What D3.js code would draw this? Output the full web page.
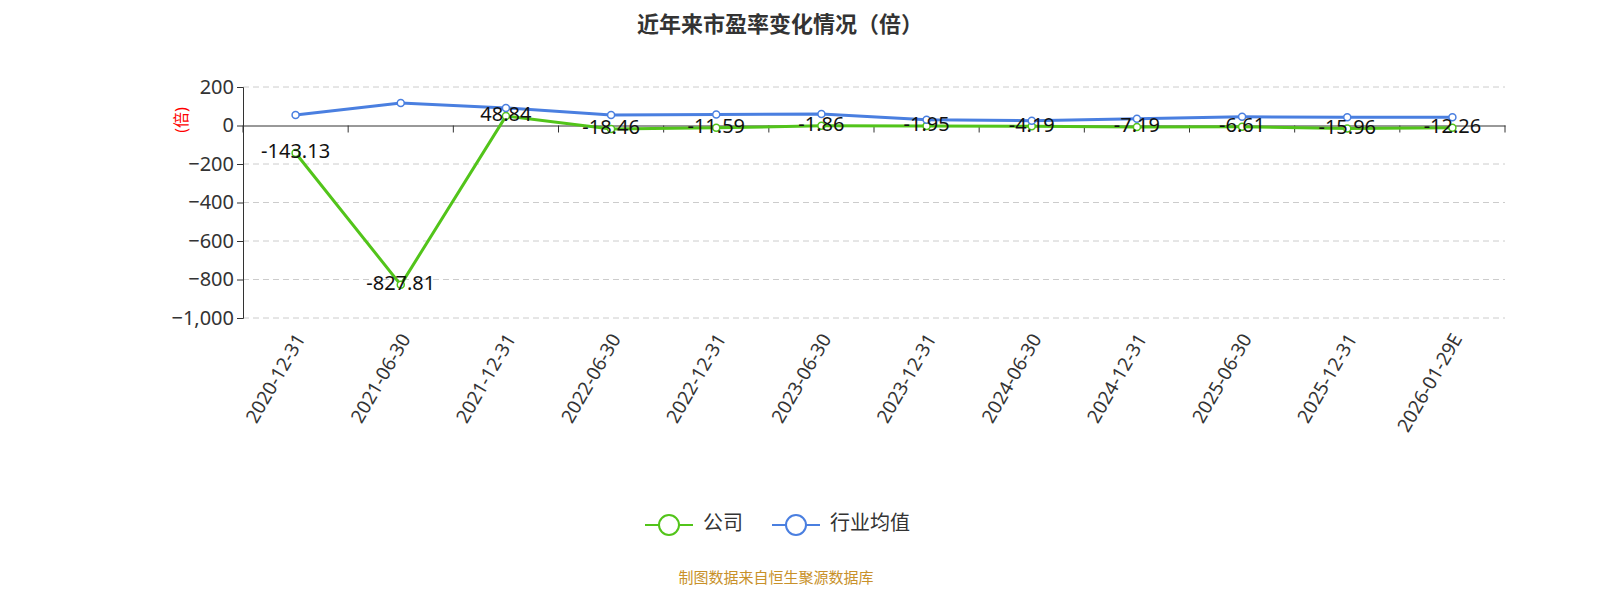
<!DOCTYPE html>
<html>
<head>
<meta charset="utf-8">
<script src="https://cdn.jsdelivr.net/npm/d3@7/dist/d3.min.js"></script>
<style>
  body { margin: 0; background: #fff; font-family: "Noto Sans", "Noto Sans CJK SC", sans-serif; }
</style>
</head>
<body>
<svg id="chart" width="1600" height="600"></svg>
<script>
var categories = ["2020-12-31", "2021-06-30", "2021-12-31", "2022-06-30", "2022-12-31", "2023-06-30",
    "2023-12-31", "2024-06-30", "2024-12-31", "2025-06-30", "2025-12-31", "2026-01-29E"];
var companyValues = [-143.13, -827.81, 48.84, -18.46, -11.59, -1.86, -1.95, -4.19, -7.19, -6.61, -15.96, -12.26];
var industryValues = [55, 117, 91, 55, 57, 60, 30, 25, 35, 45, 43, 43];
var yTicks = [200, 0, -200, -400, -600, -800, -1000];

var svg = d3.select("#chart");
var plotLeft = 243, plotRight = 1505, plotTop = 87, plotBottom = 318;

var x = d3.scaleBand().domain(categories).range([plotLeft, plotRight]);
var y = d3.scaleLinear().domain([-1000, 200]).range([plotBottom, plotTop]);

// title
svg.append("text").attr("x", 780).attr("y", 32).attr("text-anchor", "middle")
    .attr("font-size", 22).attr("font-weight", "bold").attr("fill", "#333")
    .text("近年来市盈率变化情况（倍）");

// grid
svg.append("g").selectAll("line").data(yTicks.filter(d => d !== 0)).join("line")
    .attr("x1", plotLeft).attr("x2", plotRight).attr("y1", d => y(d)).attr("y2", d => y(d))
    .attr("stroke", "#ccc").attr("stroke-dasharray", "6,4");

// y axis
var yAxis = svg.append("g").attr("transform", "translate(" + plotLeft + ",0)")
    .call(d3.axisLeft(y).tickValues(yTicks).tickSize(6).tickFormat(d3.format(",")));
yAxis.selectAll("text").attr("font-size", 20).attr("fill", "#333").attr("font-family", "Noto Sans");
yAxis.selectAll("line, path").attr("stroke", "#333");

svg.append("text").attr("transform", "translate(183,120) rotate(-90)").attr("text-anchor", "middle")
    .attr("dominant-baseline", "middle").attr("font-size", 16).attr("fill", "red").text("(倍)");

// x axis at zero
var xAxis = svg.append("g").attr("transform", "translate(0," + y(0) + ")")
    .call(d3.axisBottom(x).tickSize(0).tickFormat(""));
xAxis.select("path").attr("stroke", "#333");
xAxis.selectAll(".bt").data(categories.concat(["end"])).join("line")
    .attr("x1", (d, i) => plotLeft + i * x.bandwidth()).attr("x2", (d, i) => plotLeft + i * x.bandwidth())
    .attr("y1", 0).attr("y2", 7).attr("stroke", "#333");

// x labels
svg.append("g").selectAll("text").data(categories).join("text")
    .attr("transform", d => "translate(" + (x(d) + x.bandwidth() / 2 + 6) + "," + (plotBottom + 18) + ") rotate(-60)")
    .attr("text-anchor", "end").attr("dominant-baseline", "middle")
    .attr("font-size", 19).attr("fill", "#333").text(d => d);

var cx = d => x(d) + x.bandwidth() / 2;
var line = d3.line().x(d => cx(d[0])).y(d => y(d[1]));

function drawSeries(vals, color) {
    var data = categories.map((c, i) => [c, vals[i]]);
    svg.append("path").datum(data).attr("d", line).attr("fill", "none")
        .attr("stroke", color).attr("stroke-width", 3);
    svg.append("g").selectAll("circle").data(data).join("circle")
        .attr("cx", d => cx(d[0])).attr("cy", d => y(d[1])).attr("r", 3.5)
        .attr("fill", "#fff").attr("stroke", color).attr("stroke-width", 1.5);
}
drawSeries(companyValues, "#52c41a");
drawSeries(industryValues, "#4a7fe0");

// company labels
svg.append("g").selectAll("text").data(companyValues).join("text")
    .attr("x", (d, i) => cx(categories[i])).attr("y", d => y(d))
    .attr("text-anchor", "middle").attr("dominant-baseline", "middle")
    .attr("font-size", 20).attr("fill", "#111").text(d => d);

// legend
var legend = [["公司", "#52c41a", 645], ["行业均值", "#4a7fe0", 772]];
legend.forEach(l => {
    var g = svg.append("g").attr("transform", "translate(" + l[2] + ",525)");
    g.append("line").attr("x1", 0).attr("x2", 48).attr("stroke", l[1]).attr("stroke-width", 2);
    g.append("circle").attr("cx", 24).attr("r", 10).attr("fill", "#fff").attr("stroke", l[1]).attr("stroke-width", 2);
    g.append("text").attr("x", 58).attr("dominant-baseline", "middle").attr("font-size", 20)
        .attr("fill", "#333").text(l[0]);
});

svg.append("text").attr("x", 776).attr("y", 583).attr("text-anchor", "middle")
    .attr("font-size", 15).attr("fill", "#c8912a").text("制图数据来自恒生聚源数据库");
</script>
</body>
</html>
